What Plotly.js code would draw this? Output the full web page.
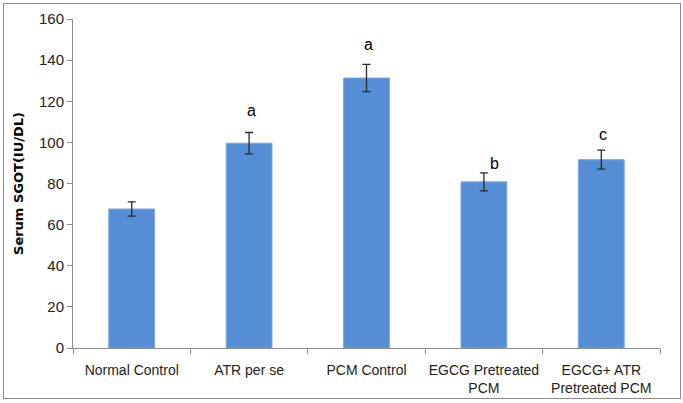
<!DOCTYPE html>
<html><head><meta charset="utf-8">
<script src="https://cdn.plot.ly/plotly-3.0.1.min.js"></script>
<style>body{margin:0;background:#fff}#wrap{position:relative;width:683px;height:403px}
#frame{position:absolute;left:3px;top:3px;width:676px;height:394px;border:1px solid #8a8a8a;pointer-events:none}</style>
</head><body><div id="wrap"><div id="chart" style="width:683px;height:403px"></div><div id="frame"></div></div>
<script>
const categories = ["Normal Control","ATR per se","PCM Control","EGCG Pretreated<br>PCM","EGCG+ ATR<br>Pretreated PCM"];
const values = [67.6, 99.6, 131.3, 80.8, 91.6];
const errors = [3.5, 5.2, 6.6, 4.4, 4.6];
const letters = ["", "a", "a", "b", "c"];
const letterGap = [0, 10.5, 9.5, 4.3, 7.6];

const trace = {
  type: 'bar', x: categories, y: values, width: 0.39,
  marker: {color: '#558ed5', line: {color: '#7aa7df', width: 1}},
  error_y: {type: 'data', array: errors, visible: true, color: '#2a2a2a', thickness: 1.3, width: 4}
};
const annotations = [];
categories.forEach((c, i) => {
  if (!letters[i]) return;
  annotations.push({x: c, y: values[i] + errors[i] + letterGap[i], text: letters[i], showarrow: false,
    xshift: i === 3 ? 11 : 2, yanchor: 'middle', font: {family: 'Liberation Sans, Arial', size: 16, color: '#000'}});
});
const layout = {
  width: 683, height: 403, margin: {l: 73, r: 23, t: 19, b: 55},
  paper_bgcolor: '#fff', plot_bgcolor: '#fff', showlegend: false, bargap: 0.61,
  xaxis: {type: 'category', showline: true, linecolor: '#8c8c8c', linewidth: 1, ticks: 'outside', tickson: 'boundaries',
    ticklen: 5, tickcolor: '#8c8c8c', showgrid: false, zeroline: false, tickangle: 0, ticklabelstandoff: 9,
    tickfont: {family: 'Liberation Sans Narrow, Arial Narrow, sans-serif', size: 14, color: '#222'}},
  yaxis: {range: [0, 160], dtick: 20, showline: true, linecolor: '#8c8c8c', linewidth: 1, ticks: 'outside', ticklen: 5,
    tickcolor: '#8c8c8c', showgrid: false, zeroline: false,
    tickfont: {family: 'Liberation Sans Narrow, Arial Narrow, sans-serif', size: 15, color: '#222'},
    title: {text: 'Serum SGOT(IU/DL)', standoff: 12, font: {family: 'DejaVu Sans, sans-serif', size: 13, color: '#000', weight: 'bold'}}},
  annotations: annotations
};
Plotly.newPlot('chart', [trace], layout, {displayModeBar: false, staticPlot: true});
</script></body></html>
